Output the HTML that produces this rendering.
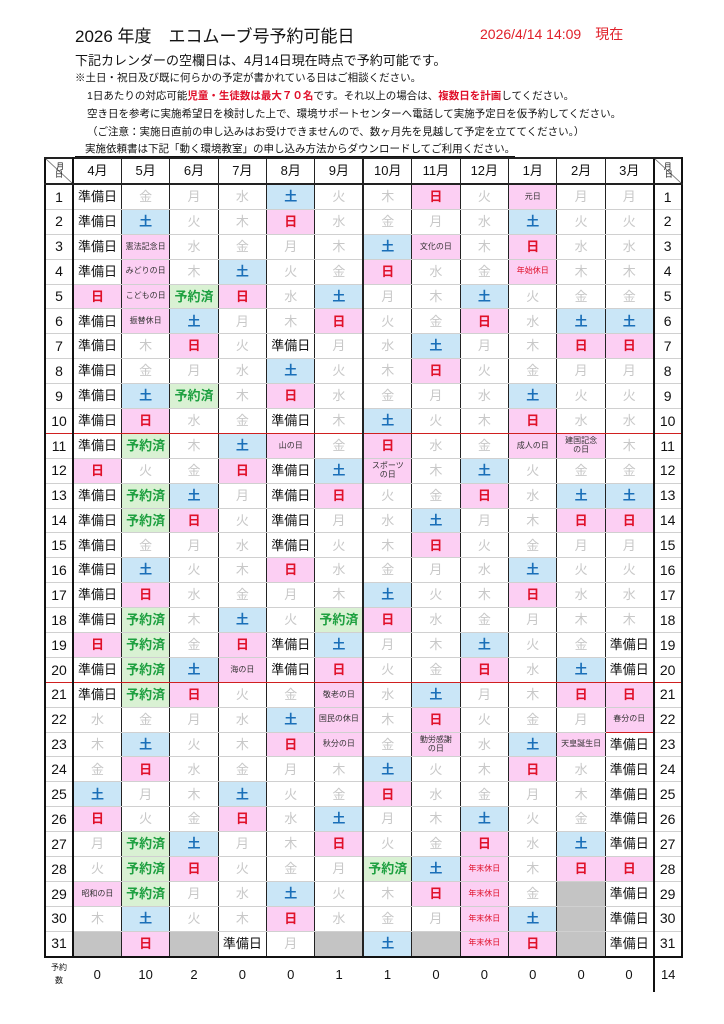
<!DOCTYPE html>
<html><head><meta charset="utf-8">
<style>
body{margin:0;background:#fff;width:724px;height:1024px;position:relative;font-family:"Liberation Sans","Noto Sans CJK JP",sans-serif;color:#111;overflow:hidden}
.t{position:absolute;white-space:nowrap}
table{position:absolute;left:44px;top:157px;border-collapse:collapse;table-layout:fixed;width:637px}
td{border-left:1px solid #222;border-right:1px solid #222;border-top:1px solid #d0d0d0;border-bottom:1px solid #d0d0d0;text-align:center;height:23.9px;padding:0;font-size:13px;color:#c8c8c8;line-height:1.05}
tr.hd td{height:24px;color:#111;font-size:13px;border-top:2px solid #222;border-bottom:2px solid #222}
td.d{color:#111;font-size:14px;border-left:2px solid #111;border-right:2px solid #111}
td.s{background:#cae6f7;color:#1a6fb8;font-weight:bold}
td.u{background:#fccff3;color:#e0102a;font-weight:bold}
td.h{background:#fccff3;color:#333;font-size:8px}
td.p{color:#111;font-size:13px}
td.r{background:#d9f1d3;color:#1ea040;font-weight:bold}
td.g{background:#c4c4c4}
td.k{border-right:2px solid #222}
tr.rl td{border-bottom:1.5px solid #d02020}
tr.last td{border-bottom:2px solid #111}
tr.ft td{border:none;color:#111;font-size:13px;height:34px}
</style></head><body>
<div class="t" style="left:75px;top:22px;font-size:17px">2026 年度　エコムーブ号予約可能日</div>
<div class="t" style="left:480px;top:24px;font-size:14px;color:#e0202a">2026/4/14 14:09　現在</div>
<div class="t" style="left:75px;top:50px;font-size:13px">下記カレンダーの空欄日は、4月14日現在時点で予約可能です。</div>
<div class="t" style="left:75px;top:70px;font-size:10.5px">※土日・祝日及び既に何らかの予定が書かれている日はご相談ください。</div>
<div class="t" style="left:87px;top:88px;font-size:10.5px">1日あたりの対応可能<b style="color:#e0102a">児童・生徒数は最大７０名</b>です。それ以上の場合は、<b style="color:#e0102a">複数日を計画</b>してください。</div>
<div class="t" style="left:87px;top:106px;font-size:10.5px">空き日を参考に実施希望日を検討した上で、環境サポートセンターへ電話して実施予定日を仮予約してください。</div>
<div class="t" style="left:87px;top:124px;font-size:10.5px">（ご注意：実施日直前の申し込みはお受けできませんので、数ヶ月先を見越して予定を立ててください。）</div>
<div class="t" style="left:75px;top:141px;font-size:10.5px;border-bottom:1px solid #111;padding-left:10px">実施依頼書は下記「動く環境教室」の申し込み方法からダウンロードしてご利用ください。</div>
<table>
<colgroup><col style="width:28px"><col span="12" style="width:48.4px"><col style="width:28px"></colgroup>
<tr class="hd"><td class="d" style="font-size:8px;background:linear-gradient(to top right,#fff 48%,#555 50%,#fff 52%)">&nbsp;月<br>日</td><td>4月</td><td>5月</td><td>6月</td><td>7月</td><td>8月</td><td class="k">9月</td><td>10月</td><td>11月</td><td>12月</td><td>1月</td><td>2月</td><td>3月</td><td class="d" style="font-size:8px;background:linear-gradient(to top right,#fff 48%,#555 50%,#fff 52%)">月<br>&nbsp;日</td></tr>
<tr><td class="d">1</td><td class="p">準備日</td><td>金</td><td>月</td><td>水</td><td class="s">土</td><td class="k">火</td><td>木</td><td class="u">日</td><td>火</td><td class="h">元日</td><td>月</td><td>月</td><td class="d">1</td></tr>
<tr><td class="d">2</td><td class="p">準備日</td><td class="s">土</td><td>火</td><td>木</td><td class="u">日</td><td class="k">水</td><td>金</td><td>月</td><td>水</td><td class="s">土</td><td>火</td><td>火</td><td class="d">2</td></tr>
<tr><td class="d">3</td><td class="p">準備日</td><td class="h">憲法記念日</td><td>水</td><td>金</td><td>月</td><td class="k">木</td><td class="s">土</td><td class="h">文化の日</td><td>木</td><td class="u">日</td><td>水</td><td>水</td><td class="d">3</td></tr>
<tr><td class="d">4</td><td class="p">準備日</td><td class="h">みどりの日</td><td>木</td><td class="s">土</td><td>火</td><td class="k">金</td><td class="u">日</td><td>水</td><td>金</td><td class="h" style="color:#e0102a">年始休日</td><td>木</td><td>木</td><td class="d">4</td></tr>
<tr><td class="d">5</td><td class="u">日</td><td class="h">こどもの日</td><td class="r">予約済</td><td class="u">日</td><td>水</td><td class="s k">土</td><td>月</td><td>木</td><td class="s">土</td><td>火</td><td>金</td><td>金</td><td class="d">5</td></tr>
<tr><td class="d">6</td><td class="p">準備日</td><td class="h">振替休日</td><td class="s">土</td><td>月</td><td>木</td><td class="u k">日</td><td>火</td><td>金</td><td class="u">日</td><td>水</td><td class="s">土</td><td class="s">土</td><td class="d">6</td></tr>
<tr><td class="d">7</td><td class="p">準備日</td><td>木</td><td class="u">日</td><td>火</td><td class="p">準備日</td><td class="k">月</td><td>水</td><td class="s">土</td><td>月</td><td>木</td><td class="u">日</td><td class="u">日</td><td class="d">7</td></tr>
<tr><td class="d">8</td><td class="p">準備日</td><td>金</td><td>月</td><td>水</td><td class="s">土</td><td class="k">火</td><td>木</td><td class="u">日</td><td>火</td><td>金</td><td>月</td><td>月</td><td class="d">8</td></tr>
<tr><td class="d">9</td><td class="p">準備日</td><td class="s">土</td><td class="r">予約済</td><td>木</td><td class="u">日</td><td class="k">水</td><td>金</td><td>月</td><td>水</td><td class="s">土</td><td>火</td><td>火</td><td class="d">9</td></tr>
<tr class="rl"><td class="d">10</td><td class="p">準備日</td><td class="u">日</td><td>水</td><td>金</td><td class="p">準備日</td><td class="k">木</td><td class="s">土</td><td>火</td><td>木</td><td class="u">日</td><td>水</td><td>水</td><td class="d">10</td></tr>
<tr><td class="d">11</td><td class="p">準備日</td><td class="r">予約済</td><td>木</td><td class="s">土</td><td class="h">山の日</td><td class="k">金</td><td class="u">日</td><td>水</td><td>金</td><td class="h">成人の日</td><td class="h">建国記念<br>の日</td><td>木</td><td class="d">11</td></tr>
<tr><td class="d">12</td><td class="u">日</td><td>火</td><td>金</td><td class="u">日</td><td class="p">準備日</td><td class="s k">土</td><td class="h">スポーツ<br>の日</td><td>木</td><td class="s">土</td><td>火</td><td>金</td><td>金</td><td class="d">12</td></tr>
<tr><td class="d">13</td><td class="p">準備日</td><td class="r">予約済</td><td class="s">土</td><td>月</td><td class="p">準備日</td><td class="u k">日</td><td>火</td><td>金</td><td class="u">日</td><td>水</td><td class="s">土</td><td class="s">土</td><td class="d">13</td></tr>
<tr><td class="d">14</td><td class="p">準備日</td><td class="r">予約済</td><td class="u">日</td><td>火</td><td class="p">準備日</td><td class="k">月</td><td>水</td><td class="s">土</td><td>月</td><td>木</td><td class="u">日</td><td class="u">日</td><td class="d">14</td></tr>
<tr><td class="d">15</td><td class="p">準備日</td><td>金</td><td>月</td><td>水</td><td class="p">準備日</td><td class="k">火</td><td>木</td><td class="u">日</td><td>火</td><td>金</td><td>月</td><td>月</td><td class="d">15</td></tr>
<tr><td class="d">16</td><td class="p">準備日</td><td class="s">土</td><td>火</td><td>木</td><td class="u">日</td><td class="k">水</td><td>金</td><td>月</td><td>水</td><td class="s">土</td><td>火</td><td>火</td><td class="d">16</td></tr>
<tr><td class="d">17</td><td class="p">準備日</td><td class="u">日</td><td>水</td><td>金</td><td>月</td><td class="k">木</td><td class="s">土</td><td>火</td><td>木</td><td class="u">日</td><td>水</td><td>水</td><td class="d">17</td></tr>
<tr><td class="d">18</td><td class="p">準備日</td><td class="r">予約済</td><td>木</td><td class="s">土</td><td>火</td><td class="r k">予約済</td><td class="u">日</td><td>水</td><td>金</td><td>月</td><td>木</td><td>木</td><td class="d">18</td></tr>
<tr><td class="d">19</td><td class="u">日</td><td class="r">予約済</td><td>金</td><td class="u">日</td><td class="p">準備日</td><td class="s k">土</td><td>月</td><td>木</td><td class="s">土</td><td>火</td><td>金</td><td class="p">準備日</td><td class="d">19</td></tr>
<tr class="rl"><td class="d">20</td><td class="p">準備日</td><td class="r">予約済</td><td class="s">土</td><td class="h">海の日</td><td class="p">準備日</td><td class="u k">日</td><td>火</td><td>金</td><td class="u">日</td><td>水</td><td class="s">土</td><td class="p">準備日</td><td class="d">20</td></tr>
<tr><td class="d">21</td><td class="p">準備日</td><td class="r">予約済</td><td class="u">日</td><td>火</td><td>金</td><td class="h k">敬老の日</td><td>水</td><td class="s">土</td><td>月</td><td>木</td><td class="u">日</td><td class="u">日</td><td class="d">21</td></tr>
<tr><td class="d">22</td><td>水</td><td>金</td><td>月</td><td>水</td><td class="s">土</td><td class="h k">国民の休日</td><td>木</td><td class="u">日</td><td>火</td><td>金</td><td>月</td><td class="h" style="border-bottom:1.5px solid #d02020">春分の日</td><td class="d">22</td></tr>
<tr><td class="d">23</td><td>木</td><td class="s">土</td><td>火</td><td>木</td><td class="u">日</td><td class="h k">秋分の日</td><td>金</td><td class="h">勤労感謝<br>の日</td><td>水</td><td class="s">土</td><td class="h">天皇誕生日</td><td class="p">準備日</td><td class="d">23</td></tr>
<tr><td class="d">24</td><td>金</td><td class="u">日</td><td>水</td><td>金</td><td>月</td><td class="k">木</td><td class="s">土</td><td>火</td><td>木</td><td class="u">日</td><td>水</td><td class="p">準備日</td><td class="d">24</td></tr>
<tr><td class="d">25</td><td class="s">土</td><td>月</td><td>木</td><td class="s">土</td><td>火</td><td class="k">金</td><td class="u">日</td><td>水</td><td>金</td><td>月</td><td>木</td><td class="p">準備日</td><td class="d">25</td></tr>
<tr><td class="d">26</td><td class="u">日</td><td>火</td><td>金</td><td class="u">日</td><td>水</td><td class="s k">土</td><td>月</td><td>木</td><td class="s">土</td><td>火</td><td>金</td><td class="p">準備日</td><td class="d">26</td></tr>
<tr><td class="d">27</td><td>月</td><td class="r">予約済</td><td class="s">土</td><td>月</td><td>木</td><td class="u k">日</td><td>火</td><td>金</td><td class="u">日</td><td>水</td><td class="s">土</td><td class="p">準備日</td><td class="d">27</td></tr>
<tr><td class="d">28</td><td>火</td><td class="r">予約済</td><td class="u">日</td><td>火</td><td>金</td><td class="k">月</td><td class="r">予約済</td><td class="s">土</td><td class="h" style="color:#e0102a">年末休日</td><td>木</td><td class="u">日</td><td class="u">日</td><td class="d">28</td></tr>
<tr><td class="d">29</td><td class="h">昭和の日</td><td class="r">予約済</td><td>月</td><td>水</td><td class="s">土</td><td class="k">火</td><td>木</td><td class="u">日</td><td class="h" style="color:#e0102a">年末休日</td><td>金</td><td class="g"></td><td class="p">準備日</td><td class="d">29</td></tr>
<tr><td class="d">30</td><td>木</td><td class="s">土</td><td>火</td><td>木</td><td class="u">日</td><td class="k">水</td><td>金</td><td>月</td><td class="h" style="color:#e0102a">年末休日</td><td class="s">土</td><td class="g"></td><td class="p">準備日</td><td class="d">30</td></tr>
<tr class="last"><td class="d">31</td><td class="g"></td><td class="u">日</td><td class="g"></td><td class="p">準備日</td><td>月</td><td class="g k"></td><td class="s">土</td><td class="g"></td><td class="h" style="color:#e0102a">年末休日</td><td class="u">日</td><td class="g"></td><td class="p">準備日</td><td class="d">31</td></tr>
<tr class="ft"><td style="font-size:8px;line-height:1.6">予約<br>数</td><td>0</td><td>10</td><td>2</td><td>0</td><td>0</td><td>1</td><td>1</td><td>0</td><td>0</td><td>0</td><td>0</td><td>0</td><td style="border-left:2px solid #111">14</td></tr>
</table>
</body></html>
